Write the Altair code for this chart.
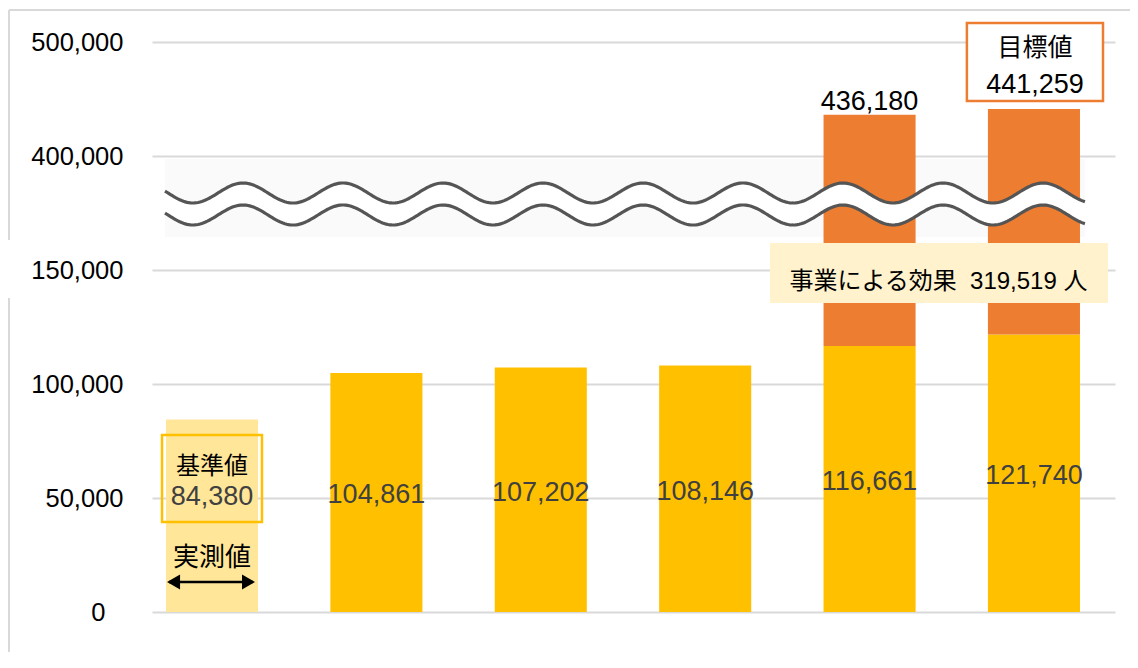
import altair as alt
import numpy as np
import pandas as pd

# ---------------- data ----------------
categories = ["基準値", "実績1", "実績2", "実績3", "見込み", "目標値"]
actual = [84380, 104861, 107202, 108146, 116661, 121740]
target_total = [None, None, None, None, 436180, 441259]
tick_values = [0, 50000, 100000, 150000, 400000, 500000]
tick_labels = ["0", "50,000", "100,000", "150,000", "400,000", "500,000"]
effect_text = "事業による効果\u00a0\u00a0319,519 人"
base_title = "基準値"
base_value = "84,380"
measured_text = "実測値"
goal_title = "目標値"
goal_value = "441,259"

# ---------------- styling / layout constants ----------------
FONT = "Liberation Sans, Arial, Noto Sans CJK JP"
YELLOW = "#FFC000"
LIGHT_YELLOW = "#FFE699"
ORANGE = "#ED7D31"
BOX_FILL = "#FFF2CC"
GRID = "#D9D9D9"
LABEL_DARK = "#404040"
BAR_HALF = 0.28


def brk(v):
    """Broken axis: 150k..400k compressed, above 400k half scale."""
    if v <= 150000:
        return v
    if v < 400000:
        return 150000 + (v - 150000) * 0.2
    return 200000 + (v - 400000) * 0.5


tick_pos = [brk(v) for v in tick_values]
label_expr = "''"
for p, lab in zip(tick_pos, tick_labels):
    label_expr = f"datum.value == {p} ? '{lab}' : ({label_expr})"

xs = alt.Scale(domain=[-0.365, 5.493], nice=False, zero=False)
ys = alt.Scale(domain=[0, 250000], nice=False, zero=True)
yaxis = alt.Axis(
    values=tick_pos, labelExpr=label_expr, grid=True, gridColor=GRID,
    gridWidth=2, domain=False, ticks=False, labelFont=FONT,
    labelFontSize=25.5, labelColor="#000000",
    labelPadding={"condition": {"test": "datum.value === 0", "value": 47}, "value": 29},
    title=None,
)


def X(f):
    return alt.X(f, type="quantitative", scale=xs, axis=None)


def Y(f):
    return alt.Y(f, type="quantitative", scale=ys, axis=yaxis)


# ---------------- tables ----------------
bar_rows = []
for i, (c, a, t) in enumerate(zip(categories, actual, target_total)):
    bar_rows.append(dict(cat=c, lo=i - BAR_HALF, hi=i + BAR_HALF, y0=0, y1=brk(a),
                         color=LIGHT_YELLOW if i == 0 else YELLOW))
    if t is not None:
        bar_rows.append(dict(cat=c, lo=i - BAR_HALF, hi=i + BAR_HALF, y0=brk(a), y1=brk(t),
                             color=ORANGE))
bars_df = pd.DataFrame(bar_rows)

lab_df = pd.DataFrame([dict(x=i, y=brk(a) / 2, text=f"{a:,}")
                       for i, a in enumerate(actual) if i > 0])
top_df = pd.DataFrame([dict(x=i, y=brk(t), text=f"{t:,}")
                       for i, t in enumerate(target_total) if t is not None and i == 4])

# axis-break band and wave
band_df = pd.DataFrame([dict(x0=-0.286, x1=5.310, y0=164474, y1=198684)])
WAVE_PERIOD, WAVE_PHASE, WAVE_AMP = 0.6083, -0.1156, 4386
UPPER_MID, LOWER_MID = 183772, 174123
wu = np.linspace(-0.286, 5.310, 500)
wc = np.cos(2 * np.pi * (wu - WAVE_PHASE) / WAVE_PERIOD)
wave_df = pd.DataFrame(dict(u=wu, up=UPPER_MID - WAVE_AMP * wc, low=LOWER_MID - WAVE_AMP * wc))
wave_long = pd.concat([
    pd.DataFrame(dict(u=wu, v=wave_df["up"], line="upper")),
    pd.DataFrame(dict(u=wu, v=wave_df["low"], line="lower")),
])

# annotation boxes
effect_box = pd.DataFrame([dict(x0=3.394, x1=5.450, y0=135526, y1=161842)])
base_box = pd.DataFrame([dict(x0=-0.304, x1=0.304, y0=39474, y1=77632)])
goal_box = pd.DataFrame([dict(x0=4.592, x1=5.420, y0=224123, y1=258333)])

texts_df = pd.DataFrame([
    dict(x=4.419, y=144737, text=effect_text, color="#000000", size=24),
    dict(x=0, y=63596, text=base_title, color="#000000", size=24),
    dict(x=0, y=50439, text=base_value, color=LABEL_DARK, size=27),
    dict(x=0, y=23684, text=measured_text, color="#000000", size=26),
    dict(x=5.006, y=247368, text=goal_title, color="#000000", size=25),
    dict(x=5.006, y=231140, text=goal_value, color="#000000", size=27),
])

arrow_line = pd.DataFrame([dict(x0=-0.262, x1=0.250, y=13158)])
arrow_heads = pd.DataFrame([
    dict(x=-0.234, y=13158, dir="left"),
    dict(x=0.222, y=13158, dir="right"),
])

# ---------------- layers ----------------
band = alt.Chart(band_df).mark_rect(color="#FAFAFA").encode(
    x=X("x0"), x2="x1", y=Y("y0"), y2="y1")

bars = alt.Chart(bars_df).mark_bar().encode(
    x=X("lo"), x2="hi", y=Y("y0"), y2="y1",
    color=alt.Color("color:N", scale=None))

wave_fill = alt.Chart(wave_df).mark_area(color="#FFFFFF").encode(
    x=X("u"), y=Y("up"), y2="low")

wave_lines = alt.Chart(wave_long).mark_line(color="#555555", strokeWidth=3.2).encode(
    x=X("u"), y=Y("v"), detail="line:N")

eff_box = alt.Chart(effect_box).mark_rect(color=BOX_FILL).encode(
    x=X("x0"), x2="x1", y=Y("y0"), y2="y1")

b_box = alt.Chart(base_box).mark_rect(fillOpacity=0, stroke=YELLOW, strokeWidth=2.5).encode(
    x=X("x0"), x2="x1", y=Y("y0"), y2="y1")

g_box = alt.Chart(goal_box).mark_rect(fill="#FFFFFF", stroke=ORANGE, strokeWidth=2.5).encode(
    x=X("x0"), x2="x1", y=Y("y0"), y2="y1")

texts = alt.Chart(texts_df).mark_text(font=FONT, baseline="middle", align="center").encode(
    x=X("x"), y=Y("y"), text="text:N",
    color=alt.Color("color:N", scale=None), size=alt.Size("size:Q", scale=None))

bar_labels = alt.Chart(lab_df).mark_text(font=FONT, fontSize=27, color=LABEL_DARK,
                                         baseline="middle", dy=3).encode(
    x=X("x"), y=Y("y"), text="text:N")

top_label = alt.Chart(top_df).mark_text(font=FONT, fontSize=27, color="#000000",
                                        baseline="middle", dy=-13).encode(
    x=X("x"), y=Y("y"), text="text:N")

arrow = alt.Chart(arrow_line).mark_rule(color="#000000", strokeWidth=2.5).encode(
    x=X("x0"), x2="x1", y=Y("y"))

LEFT_HEAD = "M -1 0 L 1 -1.15 L 1 1.15 Z"
RIGHT_HEAD = "M 1 0 L -1 -1.15 L -1 1.15 Z"
heads = alt.Chart(arrow_heads).mark_point(filled=True, color="#000000", size=169, opacity=1).encode(
    x=X("x"), y=Y("y"),
    shape=alt.Shape("dir:N", scale=alt.Scale(domain=["left", "right"], range=[LEFT_HEAD, RIGHT_HEAD]),
                    legend=None))

frame_top = alt.Chart(band_df).mark_rule(color=GRID, strokeWidth=2).encode(
    x=alt.value(-143), x2=alt.value(980), y=alt.value(-32))
frame_left1 = alt.Chart(band_df).mark_rule(color=GRID, strokeWidth=2).encode(
    x=alt.value(-143), y=alt.value(-32), y2=alt.value(198))
frame_left2 = alt.Chart(band_df).mark_rule(color=GRID, strokeWidth=2).encode(
    x=alt.value(-143), y=alt.value(256), y2=alt.value(640))

chart = alt.layer(
    band, bars, wave_fill, wave_lines, eff_box, b_box, g_box,
    texts, bar_labels, top_label, arrow, heads,
    frame_top, frame_left1, frame_left2,
).properties(
    width=963, height=570,
    padding={"left": 144, "top": 34, "right": 15, "bottom": 40},
    autosize=alt.AutoSizeParams(type="none"),
    background="#FFFFFF",
).configure_view(stroke=None)

chart.save("out.html", embed_options={"renderer": "svg", "actions": False})
